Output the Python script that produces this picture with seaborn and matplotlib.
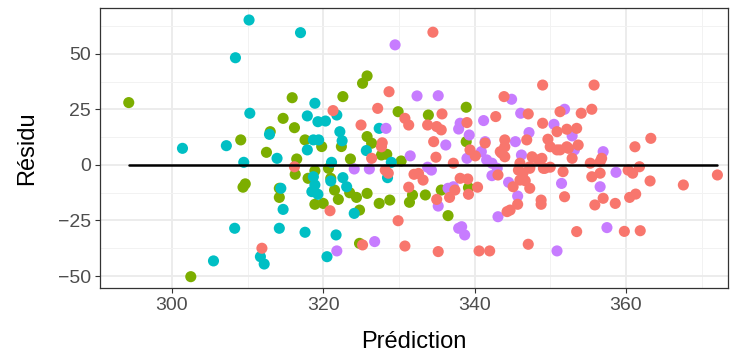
import numpy as np
import pandas as pd
import matplotlib
matplotlib.use("Agg")
import matplotlib.pyplot as plt
from matplotlib.ticker import MultipleLocator
import seaborn as sns

# Residuals vs predictions, one list pair per group
red_x = [311.9, 316.2, 326.4, 327.7, 328.6, 332.0, 320.9, 331.3, 329.9, 330.8, 325.2, 321.3,
         325.0, 328.7, 327.2, 330.8, 331.3, 327.8, 335.7, 333.8, 335.0, 335.6, 339.0, 334.6,
         334.9, 337.2, 340.1, 339.4, 328.2, 332.6, 333.2, 338.1, 339.1, 340.4, 337.4, 336.7,
         339.2, 335.0, 335.2, 340.6, 342.0, 347.1, 345.1, 345.7, 344.3, 344.7, 347.3, 348.8,
         348.8, 343.1, 346.4, 346.0, 347.3, 349.3, 351.7, 351.9, 343.6, 344.0, 348.9, 350.0,
         350.9, 352.4, 349.0, 355.8, 343.9, 342.8, 347.1, 351.3, 354.1, 355.5, 349.0, 350.9,
         352.2, 353.5, 349.7, 344.0, 346.9, 347.6, 351.3, 352.2, 353.7, 352.9, 348.4, 349.1,
         350.0, 345.8, 347.3, 346.0, 346.7, 355.3, 356.6, 355.5, 356.6, 357.0, 355.9, 363.3,
         361.2, 356.8, 360.3, 360.9, 361.8, 363.2, 367.6, 372.1, 358.6, 360.5, 361.3, 353.5,
         359.8, 361.9, 334.5, 341.4, 343.4, 344.0]
red_y = [-37.5, -0.8, 3.0, 8.2, -3.7, -4.2, -20.6, -10.0, -25.1, -36.5, -36.0, 24.5,
         18.0, 33.0, 25.5, 21.0, 18.0, 10.0, 23.0, 18.0, 17.3, 15.8, 19.1, 10.5,
         3.5, 0.8, 4.1, 6.8, -2.3, -3.8, -6.8, -6.0, -6.3, -10.0, -11.3, -14.6,
         -13.2, -15.5, -39.0, -38.7, -38.7, -35.7, -9.8, -17.7, -21.0, -20.3, -10.5, -15.8,
         -17.7, -4.5, -3.7, 0.8, -1.5, -1.5, -3.0, -14.3, 5.3, 8.2, 3.0, 8.2,
         6.8, 7.5, 36.0, 36.0, 30.8, 21.8, 23.0, 24.0, 23.3, 25.1, 18.8, 15.0,
         16.1, 16.5, 11.6, 11.3, 11.3, 3.7, 6.8, 8.2, 9.0, 3.0, 2.3, -1.5,
         -1.0, -2.3, -0.8, -6.8, -7.1, 0.8, 1.5, -5.3, -3.7, -15.0, -18.0, 12.0,
         8.2, 3.0, -2.3, -3.7, -0.8, -7.2, -9.0, -4.5, -17.3, -14.6, -13.1, -30.0,
         -29.9, -29.6, 59.8, 9.9, 6.0, 3.7]

green_x = [294.3, 309.1, 309.4, 309.7, 302.5, 312.5, 316.5, 316.3, 319.8, 322.4, 327.7, 328.4,
           330.3, 323.6, 318.9, 318.0, 320.7, 321.0, 321.5, 323.5, 324.4, 325.8, 318.9, 320.0,
           322.0, 324.8, 327.4, 328.8, 331.4, 331.8, 314.2, 314.2, 324.8, 315.9, 322.6, 325.2,
           325.8, 314.7, 316.2, 313.0, 317.6, 325.8, 326.4, 329.9, 338.9, 333.9, 338.9, 333.5,
           335.6, 339.2, 336.5]
green_y = [28.1, 11.3, -10.0, -8.5, -50.3, 5.7, 2.7, -4.2, 8.3, 8.3, 4.5, 4.8,
           1.8, 2.7, -2.6, -6.0, -1.5, -6.0, -11.3, -12.5, -14.6, -12.8, -17.7, -17.3,
           -15.5, -20.3, -17.3, -15.8, -16.8, -13.5, -10.5, -14.6, -35.3, 30.3, 30.8, 36.8,
           40.1, 21.0, 16.8, 15.0, 11.3, 12.8, 9.8, 24.0, 26.0, 22.5, 10.5, -13.5,
           -11.3, -10.2, -22.8]

cyan_x = [310.2, 308.4, 310.3, 307.2, 301.4, 309.5, 308.3, 305.5, 311.7, 312.2, 313.9, 317.9,
          325.7, 329.0, 328.5, 321.1, 318.7, 318.9, 321.0, 322.6, 323.1, 318.5, 319.3, 324.1,
          314.4, 314.7, 314.2, 317.6, 321.7, 320.5, 318.9, 317.9, 319.3, 320.3, 321.8, 312.9,
          322.2, 322.5, 318.7, 319.4, 317.0, 327.4]
cyan_y = [65.3, 48.3, 23.3, 8.7, 7.5, 1.2, -28.5, -43.2, -41.3, -44.6, 3.0, 6.8,
          6.5, 1.2, -5.7, 1.2, -5.3, -9.0, -7.2, -5.7, -9.8, -12.0, -13.2, -21.8,
          -10.5, -20.0, -28.5, -30.3, -31.5, -41.3, 27.8, 22.1, 19.5, 19.8, 22.5, 13.8,
          15.0, 10.9, 11.3, 11.3, 59.6, 16.5]

purple_x = [321.8, 324.1, 326.1, 326.8, 331.5, 329.5, 332.4, 328.3, 335.2, 338.1, 337.9, 341.2,
            339.3, 336.2, 339.0, 340.9, 341.6, 333.8, 334.3, 336.5, 337.2, 335.2, 338.3, 338.7,
            337.9, 350.9, 342.3, 344.5, 345.7, 343.1, 351.5, 342.3, 343.0, 346.2, 344.9, 346.1,
            351.9, 350.5, 347.2, 352.9, 345.4, 353.2, 357.0, 356.6, 358.7, 357.5, 341.4]
purple_y = [-38.7, -1.8, -1.8, -34.5, 4.1, 54.1, 31.1, 16.5, 31.2, 18.8, 16.2, 20.0,
            13.5, 9.0, 3.0, 6.0, 2.3, -1.0, -2.3, -10.5, -9.8, -18.5, -27.8, -31.5,
            -28.5, -38.7, -4.8, -7.8, -14.0, -23.3, -8.3, 0.8, -1.5, 4.5, 29.6, 23.3,
            25.1, 18.3, 14.6, 13.1, 10.5, 6.8, 6.0, -9.8, -3.3, -28.2, 10.5]

groups = ["A", "B", "C", "D"]
colors = ["#F8766D", "#7CAE00", "#00BFC4", "#C77CFF"]

df = pd.concat([
    pd.DataFrame({"pred": green_x, "resid": green_y, "groupe": "B"}),
    pd.DataFrame({"pred": cyan_x, "resid": cyan_y, "groupe": "C"}),
    pd.DataFrame({"pred": purple_x, "resid": purple_y, "groupe": "D"}),
    pd.DataFrame({"pred": red_x, "resid": red_y, "groupe": "A"}),
], ignore_index=True)

sns.set_theme(style="white")
plt.rcParams['font.family'] = ['Liberation Sans', 'DejaVu Sans']

fig, ax = plt.subplots(figsize=(7.46, 3.56), dpi=100)
fig.subplots_adjust(left=100/746, right=728/746, bottom=1-288/356, top=1-8/356)

sns.scatterplot(data=df, x="pred", y="resid", hue="groupe", hue_order=groups,
                palette=dict(zip(groups, colors)), s=64, linewidth=0, alpha=1,
                legend=False, ax=ax, zorder=3)

# fitted residual line at zero over the prediction range
ax.plot([df["pred"].min(), df["pred"].max()], [0, 0], color="black", lw=1.8, zorder=4)

ax.set_xlim(290.5, 373.5)
ax.set_ylim(-55.4, 70.7)
ax.xaxis.set_major_locator(MultipleLocator(20))
ax.xaxis.set_minor_locator(MultipleLocator(10))
ax.yaxis.set_major_locator(MultipleLocator(25))
ax.yaxis.set_minor_locator(MultipleLocator(12.5))
ax.grid(which="major", color="#EBEBEB", lw=1.3, zorder=0)
ax.grid(which="minor", color="#F2F2F2", lw=0.7, zorder=0)
ax.set_axisbelow(True)
for s in ax.spines.values():
    s.set_color("#333333")
    s.set_linewidth(0.9)

ax.tick_params(which="major", length=3.5, width=0.8, color="#333333",
               labelsize=14, labelcolor="#4D4D4D", bottom=True, left=True, pad=3)
ax.tick_params(which="minor", length=0)
ax.set_xlabel("Prédiction", fontsize=17, color="black", labelpad=12)
ax.set_ylabel("Résidu", fontsize=17, color="black", labelpad=14)

plt.savefig("out.png", dpi=100)
